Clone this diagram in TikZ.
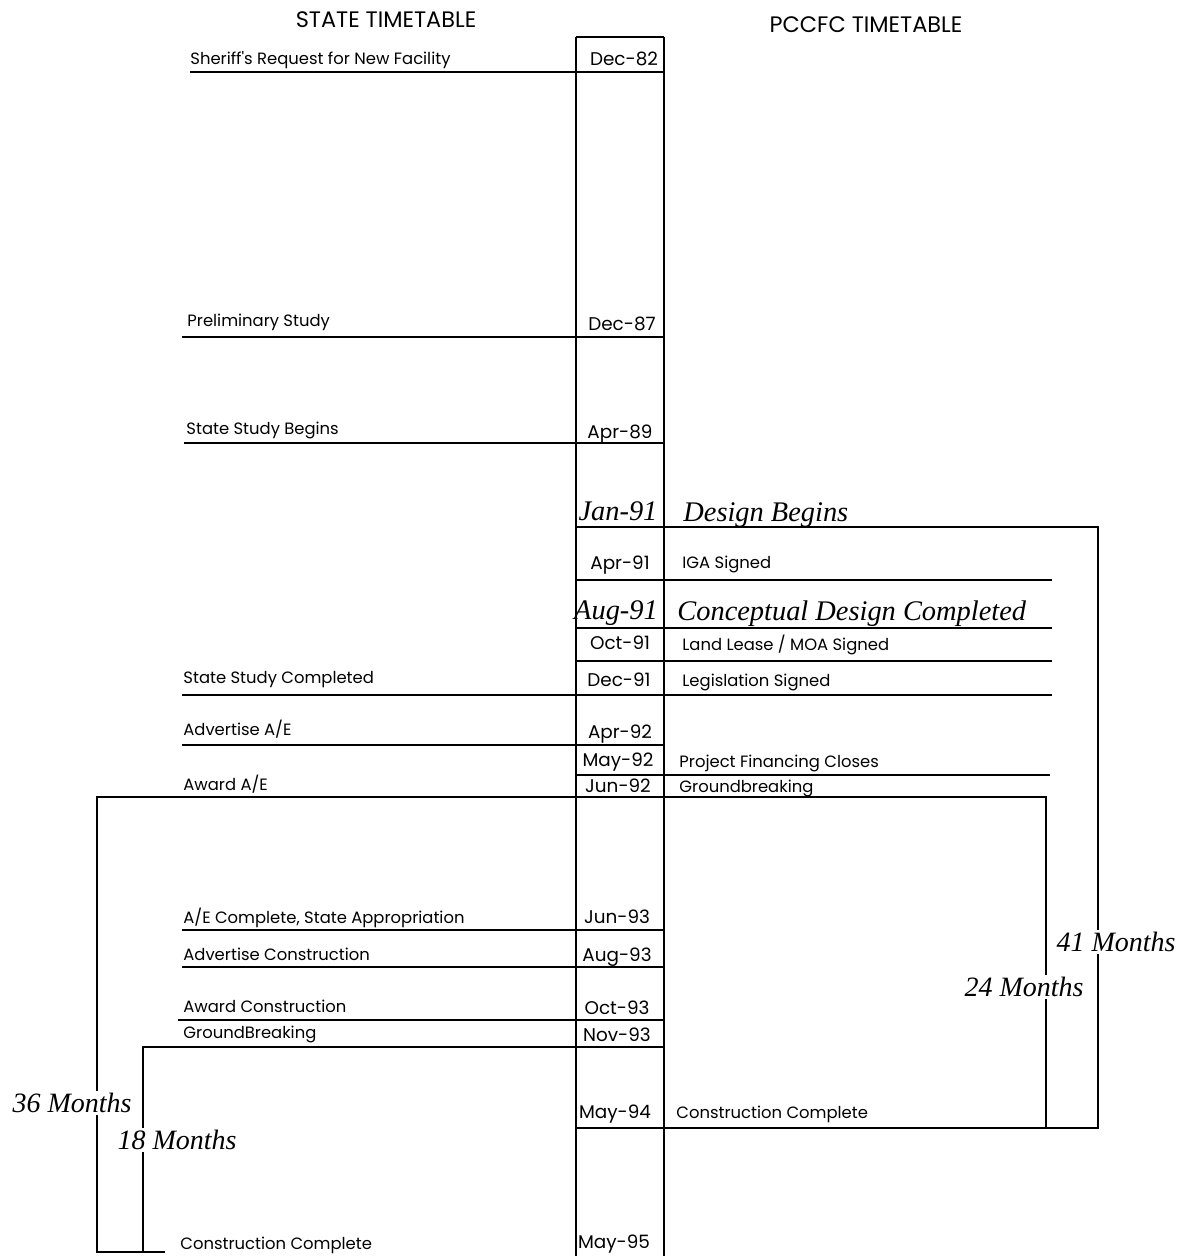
\documentclass[tikz,border=0pt]{standalone}
\usepackage{fontspec}
\setmainfont{Liberation Serif}
\newfontfamily\gothic{Poppins}
\usetikzlibrary{positioning}
\tikzset{
  % milestone texts: sans for the table, italic serif for the notes
  tt/lbl/.style={font=\gothic\fontsize{8.2}{10}\selectfont, anchor=base west, inner sep=0pt},
  tt/date/.style={font=\gothic\fontsize{9.2}{11}\selectfont, anchor=base, inner sep=0pt},
  tt/big/.style={font=\itshape\fontsize{14.2}{16}\selectfont, anchor=base west, inner sep=0pt},
  tt/span/.style={font=\itshape\fontsize{14}{16}\selectfont, fill=white, inner sep=1pt},
  tt/head/.style={font=\gothic\fontsize{11.2}{13}\selectfont, inner sep=0pt},
  tt/rule/.style={line width=1pt, draw=black},
}

\begin{document}
\begin{tikzpicture}[x=0.5pt,y=-0.5pt]
  \path[use as bounding box, fill=white] (0,0) rectangle (1186,1256);
  % headings
  \node[tt/head] (hstate) at (386,20) {STATE TIMETABLE};
  \node[tt/head] (hpccfc) at (866,25) {PCCFC TIMETABLE};
  % date column
  \coordinate (cl) at (576,37);
  \coordinate (cr) at (664,37);
  \draw[tt/rule] (cl) -- (cr);
  \draw[tt/rule] (cl) -- (576,1256);
  \draw[tt/rule] (cr) -- (664,1256);
  % state rows
  \draw[tt/rule] (190,72) -- (664,72);
  \draw[tt/rule] (182,337) -- (664,337);
  \draw[tt/rule] (184,443) -- (664,443);
  \draw[tt/rule] (182,695) -- (1052,695);
  \draw[tt/rule] (182,745) -- (664,745);
  \draw[tt/rule] (182,930) -- (664,930);
  \draw[tt/rule] (182,967) -- (664,967);
  \draw[tt/rule] (178,1020) -- (664,1020);
  % pccfc rows
  \draw[tt/rule] (576,580) -- (1052,580);
  \draw[tt/rule] (576,628) -- (1052,628);
  \draw[tt/rule] (576,661) -- (1052,661);
  \draw[tt/rule] (576,775) -- (1050,775);
  % month brackets
  \draw[tt/rule] (576,527) -| (1098,1128) -- (576,1128);
  \draw[tt/rule] (1046,1128) |- (97,797) -- (97,1252) -- (165,1252);
  \draw[tt/rule] (664,1047) -- (143,1047) -- (143,1252);
  % dates
  \node[tt/date] (d82) at (624,66) {Dec-82};
  \node[tt/date] (d87) at (622,331) {Dec-87};
  \node[tt/date] (d89) at (620,438) {Apr-89};
  \node[tt/big, anchor=base] (d91a) at (618,520) {Jan-91};
  \node[tt/date] (d91b) at (620,569) {Apr-91};
  \node[tt/big, anchor=base] (d91c) at (616,619) {Aug-91};
  \node[tt/date] (d91d) at (620,649) {Oct-91};
  \node[tt/date] (d91e) at (619,686) {Dec-91};
  \node[tt/date] (d92a) at (620,738) {Apr-92};
  \node[tt/date] (d92b) at (618,766) {May-92};
  \node[tt/date] (d92c) at (618,792) {Jun-92};
  \node[tt/date] (d93a) at (617,923) {Jun-93};
  \node[tt/date] (d93b) at (617,961) {Aug-93};
  \node[tt/date] (d93c) at (617,1014) {Oct-93};
  \node[tt/date] (d93d) at (617,1041) {Nov-93};
  \node[tt/date] (d94) at (615,1118) {May-94};
  \node[tt/date] (d95) at (614,1248) {May-95};
  % state milestones
  \node[tt/lbl] (s82) at (190,65) {Sheriff's Request for New Facility};
  \node[tt/lbl] (s87) at (187,327) {Preliminary Study};
  \node[tt/lbl] (s89) at (186,435) {State Study Begins};
  \node[tt/lbl] (s91) at (183,683) {State Study Completed};
  \node[tt/lbl] (s92a) at (183,735) {Advertise A/E};
  \node[tt/lbl] (s92c) at (183,790) {Award A/E};
  \node[tt/lbl] (s93a) at (183,923) {A/E Complete, State Appropriation};
  \node[tt/lbl] (s93b) at (183,960) {Advertise Construction};
  \node[tt/lbl] (s93c) at (183,1012) {Award Construction};
  \node[tt/lbl] (s93d) at (183,1038) {GroundBreaking};
  \node[tt/lbl] (s95) at (180,1249) {Construction Complete};
  % pccfc milestones
  \node[tt/big] (p91a) at (683,521) {Design Begins};
  \node[tt/lbl] (p91b) at (682,568) {IGA Signed};
  \node[tt/big] (p91c) at (677,620) {Conceptual Design Completed};
  \node[tt/lbl] (p91d) at (682,650) {Land Lease / MOA Signed};
  \node[tt/lbl] (p91e) at (682,686) {Legislation Signed};
  \node[tt/lbl] (p92b) at (679,767) {Project Financing Closes};
  \node[tt/lbl] (p92c) at (679,792) {Groundbreaking};
  \node[tt/lbl] (p94) at (676,1118) {Construction Complete};
  % spans
  \node[tt/span] (m36) at (72,1103) {36 Months};
  \node[tt/span] (m18) at (177,1140) {18 Months};
  \node[tt/span] (m41) at (1116,942) {41 Months};
  \node[tt/span] (m24) at (1024,987) {24 Months};
\end{tikzpicture}
\end{document}
